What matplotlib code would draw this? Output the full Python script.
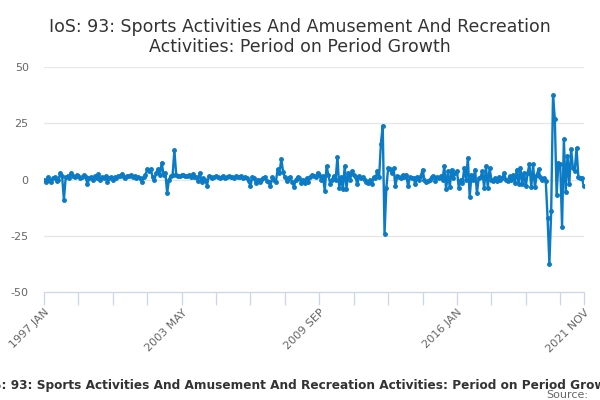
import matplotlib
matplotlib.use("Agg")
import matplotlib.pyplot as plt
import pandas as pd

# monthly period-on-period growth, 1997 JAN .. 2021 NOV
months = pd.period_range("1997-01", "2021-11", freq="M")

growth = [
    # 1997
    0, -1, 1, 0, -1, 0.5, 1, -0.5, 0, 3, 1.5, -9,
    # 1998
    1, 1.5, 0.5, 3, 1.5, 1, 2, 1.5, 0.5, 1, 2, 1,
    # 1999
    -2, 0.5, 1, 0, 1.5, 0.5, 2.5, 0, 1, 0.5, 1.5, -1,
    # 2000
    0.5, 1, 0, 1, 0.5, 1.5, 1.5, 2.5, 1, 0.5, 1.5, 1.5,
    # 2001
    2, 1, 1.5, 0.5, 1, 0.5, -1, 1, 2, 4.5, 4, 4.5,
    # 2002
    1, 0, 3, 4.5, 2, 7.5, 2, 3, -6, 0, 1.5, 2,
    # 2003
    13, 2, 1.5, 1.5, 2, 2, 1.5, 1.5, 2, 1, 2.5, 1,
    # 2004
    1, -0.5, 3, -1, 0.5, 0, -2.7, 1.5, 1, 0.5, 1, 1.5,
    # 2005
    1, 0.5, 1, 1.5, 0.5, 1, 1.5, 1, 1, 0.5, 1.5, 1,
    # 2006
    1, 1.5, 0.5, 1, 0.7, -0.5, -3, 1, 0.5, -1.5, 0, -1.3,
    # 2007
    0, 0.5, 1, -0.5, -1, -3, 1, 0, -1, 4.5, 3, 9,
    # 2008
    3.5, 1, -0.7, 0.5, 1, -1, -3.2, 0, 1, 0.5, -1.5, 0,
    # 2009
    -1.5, 0.5, -1, 1, 2, 1.5, 1, 3, 2, 0, 1.5, -5,
    # 2010
    6, 2, -2, 0, 1.5, 0, 10, -3.7, 1, -4.4, 6, -4,
    # 2011
    3, 0, 3.7, 2, 1, -2.2, 1.5, 0.5, 1, 0, -1, -1.5,
    # 2012
    0, -2.2, 1, 0.5, 3.7, 1, 16, 24, -24, -3.7, 5, 4.5,
    # 2013
    3, 5, -3, 1.5, 1, 0.5, 2, 1, 2, -3, 1, 0.5,
    # 2014
    0.5, -2, 1, 0, 1.5, 4.4, 0, -1, -0.5, 0, 1, 1.5,
    # 2015
    -0.5, 1, 0.5, 1.5, 0, 6, -4.4, 3.7, -3.5, 4.4, 0.5, 3,
    # 2016
    3.7, -3.7, 0, -1.5, 5, 0, 9.6, -7.8, 2, 0, 4.4, -6,
    # 2017
    0.5, 1, 3.7, -3.7, 6, -3.7, 5, 0, -0.5, 0.5, -0.5, 1,
    # 2018
    0, 0.5, 3, 0, -0.5, 1.5, 0, 2, -1.5, 4.4, -2, 5,
    # 2019
    -2, 3, -3, 3, 6.7, -3.5, 6.7, -3.5, 2, 4.5, 1, 0,
    # 2020
    0.5, -0.5, -17, -37.5, -14, 37.5, 27, -7, 7.5, 7, -21, 18,
    # 2021
    -5.5, 10.5, -2, 13.5, 5, 4, 14, 1, 0.8, 0.5, -3,
]

x_labels = [f"{p.year} {p.strftime('%b').upper()}" for p in months]
label_every = 76
minor_every = 19
y_ticks = [-50, -25, 0, 25, 50]

title = "IoS: 93: Sports Activities And Amusement And Recreation Activities: Period on Period Growth"

fig = plt.figure(figsize=(6, 4), dpi=100)
ax = fig.add_axes([0.0733, 0.27, 0.8997, 0.5625])

xs = range(len(growth))
ax.plot(xs, growth, color="#0a7bc4", lw=1.7, marker="o", ms=2.5, zorder=3)

ax.set_xlim(0, len(growth) - 1)
ax.set_ylim(-50, 50)

# y axis
ax.set_yticks(y_ticks)
ax.set_yticklabels([str(v) for v in y_ticks], fontsize=8, color="#666666")
ax.tick_params(axis="y", length=0, pad=11)
for v in y_ticks[1:]:
    ax.axhline(v, color="#e6e6e6", lw=0.9, zorder=1)

# x axis ticks
tick_pos = list(range(0, len(growth), minor_every))
if tick_pos[-1] != len(growth) - 1:
    tick_pos.append(len(growth) - 1)
ax.set_xticks(tick_pos)
lab_pos = list(range(0, len(growth), label_every)) + [len(growth) - 1]
ax.set_xticklabels([x_labels[i] if i in lab_pos else "" for i in tick_pos],
                   rotation=45, ha="right", rotation_mode="anchor",
                   fontsize=8, color="#666666")
ax.tick_params(axis="x", length=9, width=0.9, color="#ccd6eb", pad=2)

for s in ["top", "right", "left"]:
    ax.spines[s].set_visible(False)
ax.spines["bottom"].set_color("#ccd6eb")
ax.spines["bottom"].set_linewidth(0.9)

fig.text(0.5, 0.955, "IoS: 93: Sports Activities And Amusement And Recreation\nActivities: Period on Period Growth",
         ha="center", va="top", fontsize=12.5, color="#333333", linespacing=1.15)
fig.text(0.5, 0.037, title, ha="center", va="center", fontsize=8.75,
         fontweight="bold", color="#333333")
fig.text(0.98, 0.012, "Source:", ha="right", va="center", fontsize=8,
         color="#666666")

fig.savefig("out.png", dpi=100)
